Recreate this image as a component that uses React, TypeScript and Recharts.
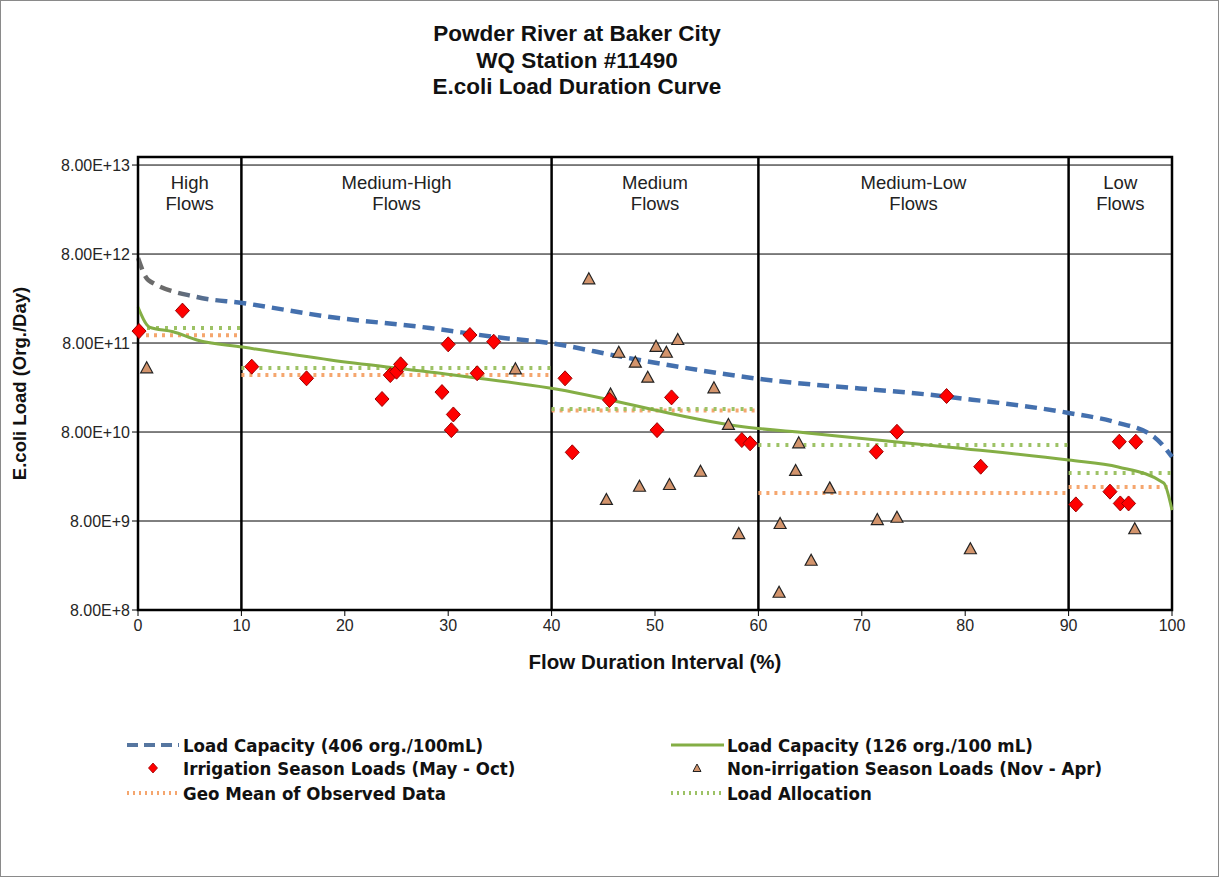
import React from "react";
import {
  CartesianGrid,
  ComposedChart,
  Line,
  ReferenceArea,
  ReferenceLine,
  Scatter,
  XAxis,
  YAxis,
} from "recharts";

// flow-regime boundaries (% of time flow is exceeded) and their labels
const flowBreaks = [0, 10, 40, 60, 90, 100];
const zoneNames = [
  ["High", "Flows"],
  ["Medium-High", "Flows"],
  ["Medium", "Flows"],
  ["Medium-Low", "Flows"],
  ["Low", "Flows"],
];

const xTicks = [0, 10, 20, 30, 40, 50, 60, 70, 80, 90, 100];
const yTicks = [8e8, 8e9, 8e10, 8e11, 8e12, 8e13];

// Load capacity at 406 org./100mL (dashed)
const cap406X = [0, 1, 5.7, 10.1, 18.6, 28.2, 34.7, 39.8, 46.9, 58.7, 78.5, 90, 94.4, 98.3, 100];
const cap406Y = [7.2e12, 4.08e12, 2.63e12, 2.25e12, 1.57e12, 1.18e12, 9.3e11, 8.0e11, 5.57e11, 3.32e11, 1.98e11, 1.31e11, 1.04e11, 7.0e10, 4.2e10];

// Load capacity at 126 org./100 mL (solid)
const cap126X = [0, 1.1, 3.4, 5.7, 10.1, 18.6, 28.2, 39.8, 58.7, 64.7, 78.5, 90, 94.8, 99.2, 100];
const cap126Y = [2.03e12, 1.21e12, 1.07e12, 8.65e11, 7.2e11, 5.16e11, 3.78e11, 2.5e11, 9.1e10, 7.8e10, 5.4e10, 3.87e10, 3.24e10, 2.14e10, 1.06e10];

// one value per flow zone
const geoMean = [9.8e11, 3.49e11, 1.4e11, 1.65e10, 1.93e10];
const loadAllocation = [1.18e12, 4.19e11, 1.45e11, 5.7e10, 2.77e10];

// Irrigation season samples (May - Oct)
const irrigationX = [0.1, 4.3, 11.0, 16.3, 23.6, 24.4, 25.0, 25.4, 29.4, 30.0, 30.5, 30.3, 32.1, 32.8, 34.4, 41.3, 42.0, 45.6, 50.2, 51.6, 58.4, 59.2, 71.4, 73.4, 78.2, 81.5, 90.7, 94.0, 95.0, 95.8, 94.9, 96.5];
const irrigationY = [1.09e12, 1.85e12, 4.34e11, 3.21e11, 1.88e11, 3.49e11, 3.81e11, 4.61e11, 2.25e11, 7.73e11, 1.26e11, 8.4e10, 9.84e11, 3.66e11, 8.28e11, 3.21e11, 4.73e10, 1.83e11, 8.4e10, 1.96e11, 6.5e10, 5.97e10, 4.81e10, 8.05e10, 2.03e11, 3.26e10, 1.23e10, 1.71e10, 1.26e10, 1.26e10, 6.22e10, 6.22e10];

// Non-irrigation season samples (Nov - Apr)
const nonIrrigationX = [0.84, 36.5, 43.6, 46.5, 48.1, 50.1, 51.1, 52.2, 49.3, 55.7, 45.7, 57.1, 54.4, 51.4, 48.5, 45.3, 58.1, 63.9, 63.6, 66.9, 62.1, 65.1, 62.0, 71.5, 73.4, 80.5, 96.4];
const nonIrrigationY = [4.16e11, 4.05e11, 4.16e12, 6.22e11, 4.81e11, 7.26e11, 6.22e11, 8.65e11, 3.26e11, 2.48e11, 2.11e11, 9.6e10, 2.86e10, 2.03e10, 1.94e10, 1.38e10, 5.71e9, 5.97e10, 2.92e10, 1.86e10, 7.4e9, 2.86e9, 1.25e9, 8.2e9, 8.7e9, 3.85e9, 6.46e9];

const pairs = (xs: number[], ys: number[]) => xs.map((x, i) => ({ x, y: ys[i] }));
const steps = (vals: number[]) =>
  vals.flatMap((v, i) => [
    { x: flowBreaks[i], y: v },
    { x: flowBreaks[i + 1], y: v },
    { x: flowBreaks[i + 1], y: null },
  ]);

const cap406 = pairs(cap406X, cap406Y);
const cap126 = pairs(cap126X, cap126Y);
const irrigation = pairs(irrigationX, irrigationY);
const nonIrrigation = pairs(nonIrrigationX, nonIrrigationY);
const geoSteps = steps(geoMean);
const laSteps = steps(loadAllocation);

const Y_MIN = 8e8;
const Y_MAX = 9.85e13;

const FONT = "'Liberation Sans', Arial, sans-serif";
const LEGEND_FONT = "'DejaVu Sans Condensed', 'DejaVu Sans', sans-serif";

const BLUE = "#4470AE";
const GREEN = "#84AE45";
const ORANGE = "#F5A66E";
const GREEN_DOT = "#9DC265";
const TRI_FILL = "#D3946C";

function Diamond({ cx, cy }: { cx?: number; cy?: number }) {
  if (cx == null || cy == null) return null;
  return (
    <polygon
      points={`${cx},${cy - 7.5} ${cx + 7},${cy} ${cx},${cy + 7.5} ${cx - 7},${cy}`}
      fill="#FF0000"
      stroke="#9A0000"
      strokeWidth={1}
    />
  );
}

function Triangle({ cx, cy }: { cx?: number; cy?: number }) {
  if (cx == null || cy == null) return null;
  return (
    <polygon
      points={`${cx},${cy - 6.5} ${cx + 6},${cy + 4.5} ${cx - 6},${cy + 4.5}`}
      fill={TRI_FILL}
      stroke="#222"
      strokeWidth={1.2}
    />
  );
}

function ZoneLabel({ viewBox, lines }: { viewBox?: any; lines: string[] }) {
  if (!viewBox) return null;
  const cx = viewBox.x + viewBox.width / 2;
  return (
    <text
      x={cx}
      y={viewBox.y + 32}
      textAnchor="middle"
      fontFamily={FONT}
      fontSize={18.5}
      fill="#222"
    >
      {lines.map((l, i) => (
        <tspan key={i} x={cx} dy={i === 0 ? 0 : 21}>
          {l}
        </tspan>
      ))}
    </text>
  );
}

function LegendItem({
  left,
  top,
  marker,
  label,
}: {
  left: number;
  top: number;
  marker: React.ReactNode;
  label: string;
}) {
  return (
    <div
      style={{
        position: "absolute",
        left,
        top: top - 12,
        height: 24,
        display: "flex",
        alignItems: "center",
      }}
    >
      <svg width={54} height={24}>
        {marker}
      </svg>
      <span
        style={{
          marginLeft: 3,
          fontFamily: LEGEND_FONT,
          fontWeight: 700,
          fontStretch: "condensed",
          fontSize: 18.5,
          color: "#111",
          whiteSpace: "nowrap",
        }}
      >
        {label}
      </span>
    </div>
  );
}

const fmtTick = (v: number) => v.toExponential(2).toUpperCase();

export default function App() {
  const tickStyle = { fontSize: 16, fill: "#262626", fontFamily: FONT };
  return (
    <div style={{ position: "absolute", left: 0, top: 0, width: 1219, height: 877, background: "#fff" }}>
      <div
        style={{
          position: "absolute",
          left: 0,
          top: 0,
          width: 1219,
          height: 877,
          boxSizing: "border-box",
          border: "1px solid #8a8a8a",
          pointerEvents: "none",
        }}
      />
      <div
        style={{
          position: "absolute",
          left: 327,
          top: 21,
          width: 500,
          textAlign: "center",
          fontFamily: FONT,
          fontWeight: 700,
          fontSize: 22.5,
          lineHeight: "26.5px",
          color: "#111",
        }}
      >
        Powder River at Baker City
        <br />
        WQ Station #11490
        <br />
        E.coli Load Duration Curve
      </div>

      <div style={{ position: "absolute", left: 0, top: 0 }}>
        <ComposedChart
          width={1219}
          height={877}
          margin={{ top: 157, right: 47, bottom: 207, left: 0 }}
        >
          <defs>
            <linearGradient id="cap406Grad" x1="0" y1="0" x2="1" y2="0">
              <stop offset="0" stopColor="#6b6b6b" />
              <stop offset="0.03" stopColor="#6b6b6b" />
              <stop offset="0.09" stopColor={BLUE} />
              <stop offset="1" stopColor={BLUE} />
            </linearGradient>
          </defs>
          <CartesianGrid vertical={false} stroke="#000" strokeWidth={1} />
          <XAxis
            type="number"
            dataKey="x"
            domain={[0, 100]}
            ticks={xTicks}
            interval={0}
            height={60}
            tick={tickStyle}
            tickSize={6}
            tickMargin={4}
            axisLine={{ stroke: "#000", strokeWidth: 2 }}
            tickLine={{ stroke: "#000" }}
            label={{
              value: "Flow Duration Interval (%)",
              position: "insideBottom",
              offset: 1,
              style: { fontFamily: FONT, fontWeight: 700, fontSize: 20.5, fill: "#111" },
            }}
          />
          <YAxis
            type="number"
            dataKey="y"
            scale="log"
            domain={[Y_MIN, Y_MAX]}
            allowDataOverflow
            ticks={yTicks}
            interval={0}
            width={138}
            tick={tickStyle}
            tickFormatter={fmtTick}
            tickSize={6}
            tickMargin={2}
            axisLine={{ stroke: "#000", strokeWidth: 2 }}
            tickLine={{ stroke: "#000" }}
            label={{
              value: "E.coli Load (Org./Day)",
              angle: -90,
              position: "insideLeft",
              offset: 19,
              style: {
                fontFamily: FONT,
                fontWeight: 700,
                fontSize: 18.5,
                fill: "#111",
                textAnchor: "middle",
              },
            }}
          />

          {zoneNames.map((lines, i) => (
            <ReferenceArea
              key={i}
              x1={flowBreaks[i]}
              x2={flowBreaks[i + 1]}
              y1={Y_MIN}
              y2={Y_MAX}
              fill="none"
              stroke="none"
              label={(p: any) => <ZoneLabel viewBox={p.viewBox} lines={lines} />}
            />
          ))}
          {flowBreaks.slice(1, -1).map((b) => (
            <ReferenceLine key={b} x={b} stroke="#000" strokeWidth={2.5} />
          ))}
          <ReferenceArea
            x1={0}
            x2={100}
            y1={Y_MIN}
            y2={Y_MAX}
            fill="none"
            stroke="#000"
            strokeWidth={2.5}
            fillOpacity={0}
          />

          <Line
            data={geoSteps}
            dataKey="y"
            type="linear"
            stroke={ORANGE}
            strokeWidth={4}
            strokeDasharray="3 5"
            dot={false}
            activeDot={false}
            connectNulls={false}
            isAnimationActive={false}
          />
          <Line
            data={laSteps}
            dataKey="y"
            type="linear"
            stroke={GREEN_DOT}
            strokeWidth={4}
            strokeDasharray="3 6"
            dot={false}
            activeDot={false}
            connectNulls={false}
            isAnimationActive={false}
          />
          <Line
            data={cap126}
            dataKey="y"
            type="monotone"
            stroke={GREEN}
            strokeWidth={3}
            dot={false}
            activeDot={false}
            isAnimationActive={false}
          />
          <Line
            data={cap406}
            dataKey="y"
            type="monotone"
            stroke="url(#cap406Grad)"
            strokeWidth={4.5}
            strokeDasharray="12 7"
            dot={false}
            activeDot={false}
            isAnimationActive={false}
          />
          <Scatter
            data={nonIrrigation}
            dataKey="y"
            shape={(p: any) => <Triangle cx={p.cx} cy={p.cy} />}
            isAnimationActive={false}
          />
          <Scatter
            data={irrigation}
            dataKey="y"
            shape={(p: any) => <Diamond cx={p.cx} cy={p.cy} />}
            isAnimationActive={false}
          />
        </ComposedChart>
      </div>

      <LegendItem
        left={126}
        top={745}
        label="Load Capacity (406 org./100mL)"
        marker={<line x1={1} x2={53} y1={12} y2={12} stroke="#5676A0" strokeWidth={4} strokeDasharray="11 6" />}
      />
      <LegendItem
        left={126}
        top={768}
        label="Irrigation Season Loads (May - Oct)"
        marker={<polygon points="27,7 31.5,12 27,17 22.5,12" fill="#FF0000" stroke="#9A0000" strokeWidth={0.8} />}
      />
      <LegendItem
        left={126}
        top={793}
        label="Geo Mean of Observed Data"
        marker={<line x1={1} x2={53} y1={12} y2={12} stroke={ORANGE} strokeWidth={4} strokeDasharray="2 4" />}
      />
      <LegendItem
        left={670}
        top={745}
        label="Load Capacity (126 org./100 mL)"
        marker={<line x1={1} x2={54} y1={12} y2={12} stroke={GREEN} strokeWidth={3} />}
      />
      <LegendItem
        left={670}
        top={768}
        label="Non-irrigation Season Loads (Nov - Apr)"
        marker={<polygon points="27,8 31,15.5 23,15.5" fill={TRI_FILL} stroke="#222" strokeWidth={1} />}
      />
      <LegendItem
        left={670}
        top={793}
        label="Load Allocation"
        marker={<line x1={1} x2={54} y1={12} y2={12} stroke={GREEN_DOT} strokeWidth={4} strokeDasharray="2 4" />}
      />
    </div>
  );
}
